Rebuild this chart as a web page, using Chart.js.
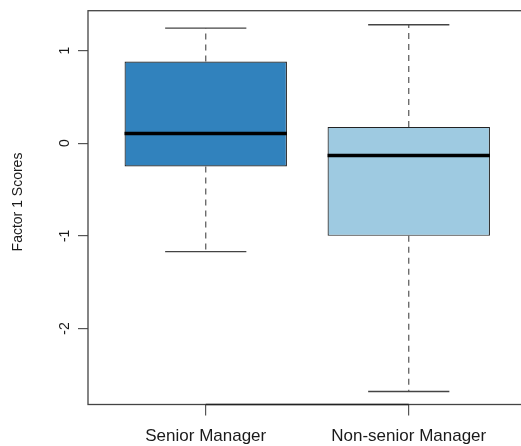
<!DOCTYPE html>
<html>
<head>
<meta charset="utf-8">
<script src="https://cdn.jsdelivr.net/npm/chart.js@4/dist/chart.umd.min.js"></script>
<style>
  html, body { margin: 0; padding: 0; background: #fff; overflow: hidden; width: 521px; height: 446px; }
  #wrap { width: 521px; height: 446px; overflow: hidden; position: relative; }
  canvas { display: block; }
</style>
</head>
<body>
<div id="wrap"><canvas id="c" width="530" height="446"></canvas></div>
<script>
// Five-number summaries for each group
const groups = ['Senior Manager', 'Non-senior Manager'];
const whiskerLow = [-1.17, -2.68];
const quartile1 = [-0.252, -1.0];
const medians = [0.104, -0.134];
const quartile3 = [0.881, 0.176];
const whiskerHigh = [1.242, 1.278];
const boxColors = ['#3182bd', '#9ecae1'];
const yTicks = [-2, -1, 0, 1];
const yLabel = 'Factor 1 Scores';

const FONT = "'Liberation Sans', Arial, Helvetica, sans-serif";

// Axes keep a fixed size and add no extra label padding to the plot area
const fixSize = (prop, size) => s => {
  s[prop] = size;
  s.paddingTop = s.paddingBottom = s.paddingLeft = s.paddingRight = 0;
};

// Whiskers, caps, medians, frame and y-axis title
const boxplotParts = {
  id: 'boxplotParts',
  afterDatasetsDraw(chart) {
    const { ctx, chartArea: a, scales: { x, y } } = chart;
    const seg = (x1, y1, x2, y2) => {
      ctx.beginPath(); ctx.moveTo(x1, y1); ctx.lineTo(x2, y2); ctx.stroke();
    };
    ctx.save();
    groups.forEach((g, i) => {
      const pos = i + 1;
      const cx = x.getPixelForValue(pos);
      const capL = x.getPixelForValue(pos - 0.2), capR = x.getPixelForValue(pos + 0.2);
      const boxL = x.getPixelForValue(pos - 0.4), boxR = x.getPixelForValue(pos + 0.4);
      // dashed whiskers
      ctx.setLineDash([6, 5]);
      ctx.strokeStyle = '#555';
      ctx.lineWidth = 1.2;
      seg(cx, y.getPixelForValue(quartile3[i]), cx, y.getPixelForValue(whiskerHigh[i]));
      seg(cx, y.getPixelForValue(quartile1[i]), cx, y.getPixelForValue(whiskerLow[i]));
      ctx.setLineDash([]);
      // whisker caps
      ctx.strokeStyle = '#444';
      ctx.lineWidth = 1.4;
      seg(capL, y.getPixelForValue(whiskerHigh[i]), capR, y.getPixelForValue(whiskerHigh[i]));
      seg(capL, y.getPixelForValue(whiskerLow[i]), capR, y.getPixelForValue(whiskerLow[i]));
      // median
      ctx.strokeStyle = '#000';
      ctx.lineWidth = 3.5;
      seg(boxL, y.getPixelForValue(medians[i]), boxR, y.getPixelForValue(medians[i]));
    });
    // plot frame
    ctx.strokeStyle = '#444';
    ctx.lineWidth = 1.3;
    ctx.strokeRect(a.left, a.top, a.right - a.left, a.bottom - a.top);
    // x axis line between the first and last group
    ctx.strokeStyle = '#222';
    seg(x.getPixelForValue(1), a.bottom, x.getPixelForValue(groups.length), a.bottom);
    // y axis title
    ctx.translate(18.5, 202);
    ctx.rotate(-Math.PI / 2);
    ctx.fillStyle = '#1a1a1a';
    ctx.font = '14px ' + FONT;
    ctx.textAlign = 'center';
    ctx.textBaseline = 'middle';
    ctx.fillText(yLabel, 0, 0);
    ctx.restore();
  }
};

new Chart(document.getElementById('c'), {
  type: 'bar',
  data: {
    datasets: [{
      data: groups.map((g, i) => ({ x: i + 1, y: [quartile1[i], quartile3[i]] })),
      backgroundColor: boxColors,
      borderColor: '#222',
      borderWidth: 1.2,
      borderSkipped: false,
      barPercentage: 0.8,
      categoryPercentage: 1.0
    }]
  },
  options: {
    responsive: false,
    animation: false,
    devicePixelRatio: 1,
    layout: { padding: { top: 10.7, right: 3.5, bottom: 0, left: 0 } },
    plugins: { legend: { display: false }, tooltip: { enabled: false } },
    scales: {
      x: {
        type: 'linear',
        offset: false,
        min: 0.42,
        max: 2.58,
        afterBuildTicks: s => { s.ticks = groups.map((g, i) => ({ value: i + 1 })); },
        afterFit: fixSize('height', 41.5),
        grid: { offset: false, drawOnChartArea: false, drawTicks: true, tickLength: 11, color: '#555', lineWidth: 1.2 },
        border: { display: false },
        ticks: {
          autoSkip: false,
          maxRotation: 0,
          padding: 11,
          color: '#1a1a1a',
          font: { size: 17, family: FONT },
          callback: v => groups[v - 1]
        }
      },
      y: {
        min: -2.82,
        max: 1.43,
        afterBuildTicks: s => { s.ticks = yTicks.map(v => ({ value: v })); },
        afterFit: fixSize('width', 88),
        grid: { drawOnChartArea: false, drawTicks: true, tickLength: 10, color: '#555', lineWidth: 1.2 },
        border: { display: false },
        ticks: {
          minRotation: 90,
          maxRotation: 90,
          crossAlign: 'center',
          padding: 7,
          color: '#1a1a1a',
          font: { size: 14, family: FONT }
        }
      }
    }
  },
  plugins: [boxplotParts]
});
</script>
</body>
</html>
